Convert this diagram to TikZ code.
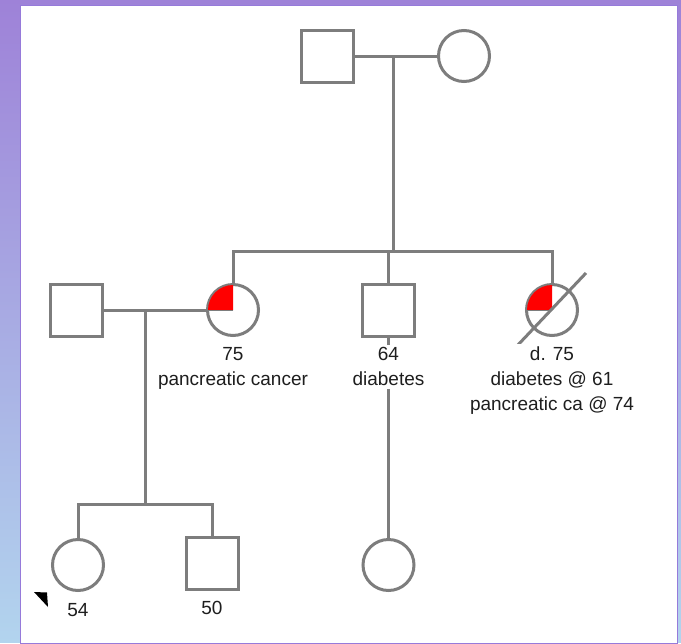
\documentclass[tikz,border=0pt]{standalone}
\usepackage{fontspec}
\setmainfont{Liberation Sans}
\usetikzlibrary{positioning}
\definecolor{pedline}{RGB}{125,125,125}
\definecolor{pedtext}{RGB}{30,30,30}
\definecolor{bgtop}{RGB}{158,130,216}
\definecolor{bgbot}{RGB}{178,212,238}
\definecolor{panelrim}{RGB}{150,122,218}
\tikzset{
  male/.style={draw=pedline,line width=3pt,minimum size=52pt,inner sep=0pt},
  female/.style={draw=pedline,line width=3pt,circle,minimum size=51pt,inner sep=0pt},
  rel/.style={draw=pedline,line width=3pt},
  info/.style={text=pedtext,font=\fontsize{19}{25}\selectfont,align=center,fill=white,inner xsep=1pt,inner ysep=3pt,anchor=north},
}
\begin{document}
\begin{tikzpicture}[x=1pt,y=1pt]
  \shade[top color=bgtop,bottom color=bgbot] (0,0) rectangle (681,-642);
  \draw[fill=white,draw=panelrim,line width=0.8pt] (20,-5) rectangle (677,-643);
  % generation I
  \node[male] (gf) at (327,-56) {};
  \node[female] (gm) at (464,-56) {};
  % generation II
  \node[male] (hus) at (76,-310) {};
  \node[female] (p1) at (233,-310) {};
  \node[male] (p2) at (388.5,-310) {};
  \node[female] (p3) at (552,-310) {};
  % generation III
  \node[female] (c1) at (78,-565) {};
  \node[male] (c2) at (212,-563) {};
  \node[female] (c3) at (388.5,-565) {};
  % affected quarter
  \foreach \who in {p1,p3}{
    \fill[red] (\who.center) -- ++(-25,0) arc[start angle=180,end angle=90,radius=25] -- cycle;
    \draw[pedline,line width=0.8pt] (\who.center) -- ++(-25,0);
  }
  % deceased
  \draw[rel] ([shift={(-36,-37)}]p3.center) -- ([shift={(34,37)}]p3.center);
  % lines of descent
  \coordinate (topdrop) at (393,-57);
  \coordinate (sibtop) at (393,-250);
  \coordinate (hdrop) at (145,-310);
  \coordinate (sibbot) at (145,-504);
  \draw[rel] (gf) -- (gm);
  \draw[rel] (topdrop) -- (sibtop);
  \draw[rel] (p1.north) -- ++(0,32) -| (p3.north);
  \draw[rel] (p2.north) -- ++(0,31);
  \draw[rel] (hus) -- (p1);
  \draw[rel] (hdrop) -- (sibbot);
  \draw[rel] (c1.north) |- (sibbot) -| (c2.north);
  \draw[rel] (p2) -- (c3);
  % labels
  \node[info,below=7pt of p1] (p1lab) {75\\pancreatic cancer};
  \node[info,below=7pt of p2] (p2lab) {64\\diabetes};
  \node[info,below=7pt of p3] (p3lab) {d. 75\\diabetes @ 61\\pancreatic ca @ 74};
  \node[info,below=8pt of c1] (c1lab) {54};
  \node[info,below=8pt of c2] (c2lab) {50};
  % proband
  \fill (34,-592) -- (47,-592.5) -- (48,-607) -- cycle;
\end{tikzpicture}
\end{document}
